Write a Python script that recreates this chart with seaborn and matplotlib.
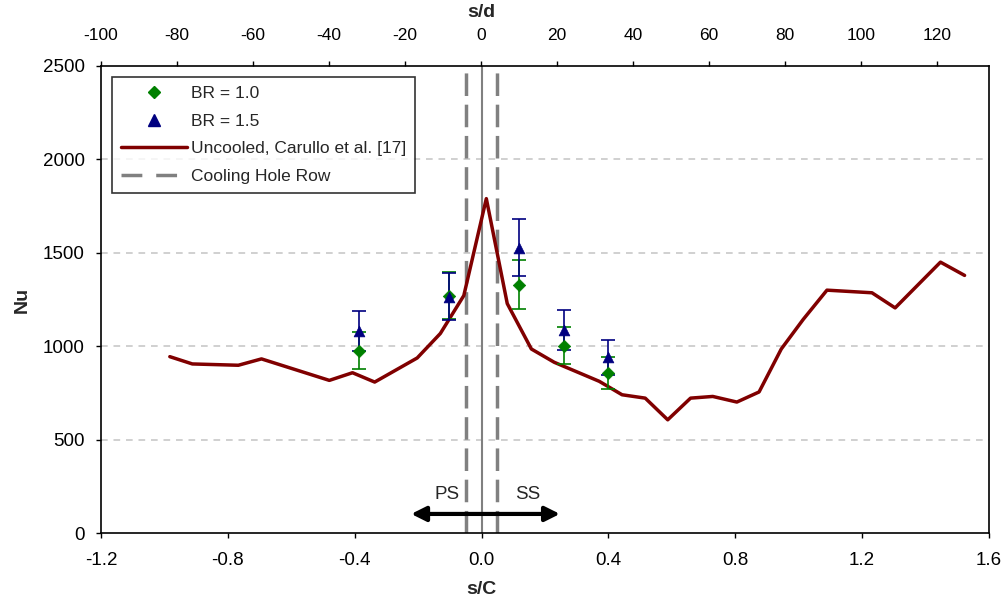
import matplotlib
matplotlib.use("Agg")
import matplotlib.pyplot as plt
from matplotlib.lines import Line2D
import seaborn as sns
import numpy as np

# ---------------- data ----------------
curve_sc = [-0.983, -0.912, -0.767, -0.694, -0.480, -0.407, -0.337, -0.203, -0.130, -0.056,
            0.015, 0.081, 0.157, 0.229, 0.371, 0.443, 0.516, 0.587, 0.659, 0.729,
            0.805, 0.875, 0.945, 1.014, 1.089, 1.231, 1.304, 1.447, 1.523]
curve_nu = [944, 905, 898, 932, 817, 858, 808, 937, 1068, 1271,
            1790, 1228, 985, 914, 812, 740, 722, 606, 722, 731,
            701, 755, 985, 1143, 1300, 1286, 1205, 1450, 1379]

pts_sc = [-0.386, -0.103, 0.118, 0.260, 0.400]
br10_nu = [976, 1271, 1330, 1003, 857]
br10_err = [98, 127, 133, 100, 86]
br15_nu = [1080, 1264, 1527, 1085, 940]
br15_err = [108, 126, 153, 108, 94]

hole_rows = [-0.05, 0.05]
hole_center = [0.0]

x_ticks = [-1.2, -0.8, -0.4, 0.0, 0.4, 0.8, 1.2, 1.6]
x_ticklabels = ["-1.2", "-0.8", "-0.4", "0.0", "0.4", "0.8", "1.2", "1.6"]
y_ticks = [0, 500, 1000, 1500, 2000, 2500]
top_ticks = [-100, -80, -60, -40, -20, 0, 20, 40, 60, 80, 100, 120]

# ---------------- style ----------------
sns.set_style("white")
plt.rcParams['font.family'] = ['Liberation Sans', 'DejaVu Sans']

GREEN = '#008000'
NAVY = '#000080'
DRED = '#800000'
GRAY = '#808080'

fig = plt.figure(figsize=(10.05, 6.05), dpi=100)
ax = fig.add_axes([101 / 1005, 72 / 605, 888 / 1005, 467 / 605])

ax.set_xlim(-1.2, 1.6)
ax.set_ylim(0, 2500)

# grid
for yv in y_ticks[1:-1]:
    ax.axhline(yv, color='#c8c8c8', lw=1.2, dashes=(4, 3.5), zorder=0.5)

# cooling hole rows
for xv in hole_rows:
    ax.axvline(xv, color=GRAY, lw=2.5, dashes=(6.5, 2.5), zorder=1)
for xv in hole_center:
    ax.axvline(xv, color=GRAY, lw=1.5, zorder=1)

# curve
sns.lineplot(x=curve_sc, y=curve_nu, ax=ax, sort=False, color=DRED, lw=2.5,
             zorder=3, legend=False)

# error bars
ax.errorbar(pts_sc, br10_nu, yerr=br10_err, fmt='none', ecolor=GREEN, elinewidth=1.2,
            capsize=5, capthick=1.2, zorder=4)
ax.errorbar(pts_sc, br15_nu, yerr=br15_err, fmt='none', ecolor=NAVY, elinewidth=1.2,
            capsize=5, capthick=1.2, zorder=5)
sns.scatterplot(x=pts_sc, y=br10_nu, ax=ax, marker='D', s=40, color=GREEN,
                edgecolor=GREEN, linewidth=0.5, zorder=6, legend=False)
sns.scatterplot(x=pts_sc, y=br15_nu, ax=ax, marker='^', s=60, color=NAVY,
                edgecolor=NAVY, linewidth=0.5, zorder=7, legend=False)

# PS / SS arrow
ax.annotate('', xy=(-0.222, 102), xytext=(0.247, 102),
            arrowprops=dict(arrowstyle='<|-|>', color='black', lw=3,
                            mutation_scale=22, shrinkA=0, shrinkB=0), zorder=8)
ax.text(-0.108, 204, 'PS', fontsize=13.5, ha='center', va='center')
ax.text(0.145, 204, 'SS', fontsize=13.5, ha='center', va='center')

# axes
ax.set_xticks(x_ticks)
ax.set_xticklabels(x_ticklabels)
ax.set_yticks(y_ticks)
ax.tick_params(axis='both', direction='out', length=3.6, width=1, labelsize=13.5,
               colors='black', left=True, bottom=True)
ax.tick_params(axis='x', pad=10.4)
ax.tick_params(axis='y', pad=8)
ax.set_xlabel('s/C', fontsize=14, fontweight='bold')
ax.set_ylabel('Nu', fontsize=14, fontweight='bold')
ax.xaxis.set_label_coords(0.428, -0.122)
ax.xaxis.label.set_va('center')
ax.yaxis.set_label_coords(-0.089, 0.5)
ax.yaxis.label.set_va('center')
for sp in ax.spines.values():
    sp.set_visible(True)
    sp.set_color('black')
    sp.set_linewidth(1.2)

ax2 = ax.twiny()
ax2.set_xlim(-100, 133.7)
ax2.set_xticks(top_ticks)
ax2.set_xticklabels([str(t) for t in top_ticks])
ax2.tick_params(axis='x', direction='out', length=3.6, width=1, labelsize=12.5,
                colors='black', top=True, pad=13)
ax2.set_xlabel('s/d', fontsize=14, fontweight='bold')
ax2.xaxis.set_label_coords(0.428, 1.114)
ax2.xaxis.label.set_va('center')
for sp in ax2.spines.values():
    sp.set_visible(False)

# legend
handles = [
    Line2D([], [], ls='none', marker='D', color=GREEN, markersize=6),
    Line2D([], [], ls='none', marker='^', color=NAVY, markersize=8),
    Line2D([], [], color=DRED, lw=2.5),
    Line2D([], [], color=GRAY, lw=2.5, dashes=(6, 4)),
]
labels = ['BR = 1.0', 'BR = 1.5', 'Uncooled, Carullo et al. [17]', 'Cooling Hole Row']
leg = ax.legend(handles, labels, loc='upper left', bbox_to_anchor=(0.0124, 0.976),
                borderaxespad=0, fontsize=12.5, frameon=True, fancybox=False,
                edgecolor='black', handlelength=3.8, labelspacing=0.72,
                borderpad=0.5, handletextpad=0.25)
leg.get_frame().set_linewidth(1.2)
leg.set_zorder(10)

fig.savefig('out.png', dpi=100, facecolor='white')
